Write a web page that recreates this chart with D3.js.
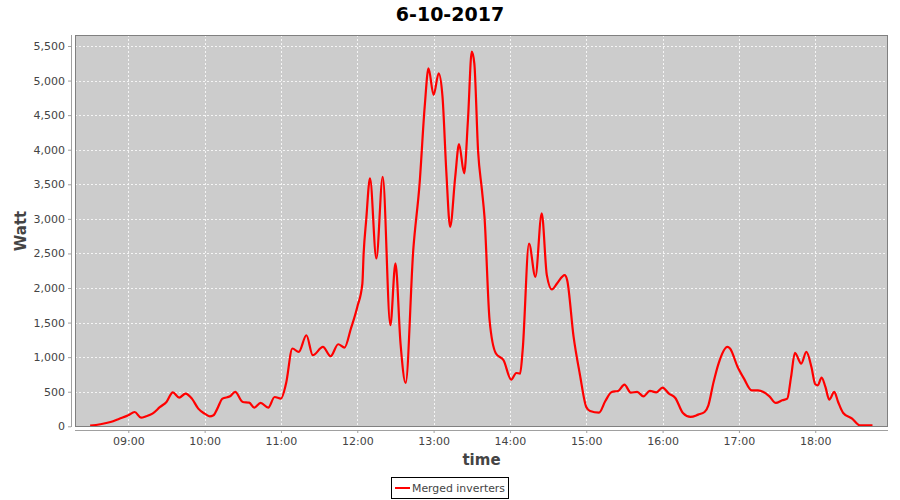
<!DOCTYPE html>
<html lang="en">
<head>
    <meta charset="UTF-8">
    <title>6-10-2017</title>
    <script type="text/javascript" src="https://d3js.org/d3.v7.min.js"></script>
    <style>
        body { margin: 0; background: #fff; }
        text { font-family: "DejaVu Sans", sans-serif; }
    </style>
</head>
<body>

    <svg id="svg" width=900 height=500></svg>

    <script>
        // readings of the merged inverters, time of day and watts
        const times = [
            "08:30", "08:38", "08:46", "08:53", "09:00", "09:05", "09:10", "09:14", "09:19", "09:25",
            "09:30", "09:35", "09:40", "09:45", "09:50", "09:55", "10:00", "10:04", "10:07", "10:10",
            "10:14", "10:20", "10:24", "10:30", "10:35", "10:39", "10:44", "10:50", "10:55", "11:00",
            "11:04", "11:09", "11:14", "11:20", "11:25", "11:33", "11:39", "11:45", "11:50", "11:55",
            "12:00", "12:04", "12:05", "12:07", "12:10", "12:15", "12:20", "12:26", "12:30", "12:34",
            "12:38", "12:44", "12:49", "12:53", "12:56", "13:00", "13:04", "13:07", "13:10", "13:13",
            "13:17", "13:20", "13:24", "13:27", "13:30", "13:32", "13:35", "13:38", "13:40", "13:44",
            "13:49", "13:55", "14:01", "14:05", "14:08", "14:10", "14:15", "14:20", "14:25", "14:29",
            "14:33", "14:37", "14:43", "14:45", "14:50", "14:55", "15:00", "15:03", "15:10", "15:15",
            "15:20", "15:25", "15:30", "15:35", "15:40", "15:45", "15:50", "15:55", "16:00", "16:05",
            "16:10", "16:16", "16:22", "16:28", "16:33", "16:36", "16:40", "16:44", "16:51", "16:53",
            "16:59", "17:04", "17:10", "17:15", "17:24", "17:29", "17:34", "17:38", "17:41", "17:44",
            "17:49", "17:53", "17:57", "18:00", "18:02", "18:05", "18:08", "18:11", "18:15", "18:18",
            "18:22", "18:29", "18:35", "18:45"
        ];
        const watts = [
            10, 30, 62, 110, 160, 207, 125, 145, 183, 280,
            352, 490, 415, 473, 400, 256, 183, 145, 160, 256,
            400, 434, 497, 352, 343, 270, 338, 270, 424, 400,
            618, 1125, 1075, 1317, 1028, 1148, 1013, 1187, 1139, 1414,
            1727, 2065, 2500, 2982, 3585, 2427, 3609, 1462, 2355, 1197,
            627, 2547, 3513, 4622, 5177, 4791, 5105, 4766, 3681, 2885,
            3609, 4082, 3658, 4429, 5418, 5250, 3970, 3416, 3029, 1534,
            1052, 955, 676, 771, 763, 1100, 2644, 2161, 3079, 2186,
            1979, 2065, 2186, 2113, 1300, 750, 280, 222, 198, 366,
            497, 511, 603, 487, 497, 434, 511, 492, 560, 473,
            410, 193, 135, 169, 207, 304, 633, 907, 1148, 1125,
            858, 690, 521, 521, 434, 338, 376, 400, 714, 1061,
            907, 1075, 858, 608, 593, 705, 569, 386, 497, 352,
            193, 111, 14, 14
        ];
        const yTicks = [0, 500, 1000, 1500, 2000, 2500, 3000, 3500, 4000, 4500, 5000, 5500];
        const xTickLabels = ["09:00", "10:00", "11:00", "12:00", "13:00", "14:00", "15:00", "16:00", "17:00", "18:00"];
        const seriesName = "Merged inverters";

        const toDate = s => {
            const [h, m] = s.split(":").map(Number);
            return new Date(2017, 9, 6, h, m);
        };
        const data = times.map((t, i) => ({ t: toDate(t), v: watts[i] }));

        const svg = d3.select("svg");
        const plotL = 75, plotR = 888, plotT = 35, plotB = 427;

        const x = d3.scaleTime()
            .domain([new Date(2017, 9, 6, 8, 18, 6), new Date(2017, 9, 6, 18, 57, 12)])
            .range([plotL, plotR]);
        const y = d3.scaleLinear()
            .domain([-10, 5659])
            .range([plotB, plotT]);

        // title
        svg.append("text")
            .attr("x", 450).attr("y", 21)
            .attr("text-anchor", "middle")
            .style("font-size", "19px").style("font-weight", "bold")
            .attr("fill", "#000")
            .text("6-10-2017");

        // plot background
        svg.append("rect")
            .attr("x", plotL).attr("y", plotT)
            .attr("width", plotR - plotL).attr("height", plotB - plotT)
            .attr("fill", "#cccccc");

        // gridlines
        const grid = svg.append("g")
            .attr("stroke", "#ffffff").attr("stroke-width", 0.8)
            .attr("stroke-dasharray", "2,2");
        grid.selectAll("line.h").data(yTicks).enter().append("line")
            .attr("x1", plotL).attr("x2", plotR)
            .attr("y1", d => Math.round(y(d)) + 0.5).attr("y2", d => Math.round(y(d)) + 0.5);
        grid.selectAll("line.v").data(xTickLabels).enter().append("line")
            .attr("y1", plotT).attr("y2", plotB)
            .attr("x1", d => Math.round(x(toDate(d))) + 0.5).attr("x2", d => Math.round(x(toDate(d))) + 0.5);

        // the series
        const line = d3.line()
            .x(d => x(d.t))
            .y(d => y(d.v))
            .curve(d3.curveMonotoneX);
        svg.append("path")
            .datum(data)
            .attr("d", line)
            .attr("fill", "none")
            .attr("stroke", "#ff0000")
            .attr("stroke-width", 2.2)
            .attr("stroke-linejoin", "round");

        // plot outline
        svg.append("rect")
            .attr("x", plotL + 0.5).attr("y", plotT + 0.5)
            .attr("width", plotR - plotL - 1).attr("height", plotB - plotT - 1)
            .attr("fill", "none").attr("stroke", "#808080");

        // y axis
        const yAxis = d3.axisLeft(y)
            .tickValues(yTicks)
            .tickSize(3)
            .tickPadding(3)
            .tickFormat(d3.format(","));
        const gy = svg.append("g")
            .attr("transform", "translate(71,0)")
            .call(yAxis);
        gy.select(".domain").attr("stroke", "#a0a0a0").attr("d", `M0.5,${plotT}V${plotB}`);
        gy.selectAll(".tick line").attr("stroke", "#a0a0a0");
        gy.selectAll(".tick text").attr("fill", "#444").style("font-size", "11px")
            .style("font-family", "'DejaVu Sans', sans-serif");

        // x axis
        const xAxis = d3.axisBottom(x)
            .tickValues(xTickLabels.map(toDate))
            .tickSize(3)
            .tickPadding(4)
            .tickFormat(d3.timeFormat("%H:%M"));
        const gx = svg.append("g")
            .attr("transform", "translate(0,430)")
            .call(xAxis);
        gx.select(".domain").attr("stroke", "#a0a0a0").attr("d", `M${plotL},0.5H${plotR}`);
        gx.selectAll(".tick line").attr("stroke", "#a0a0a0");
        gx.selectAll(".tick text").attr("fill", "#444").style("font-size", "11px")
            .style("font-family", "'DejaVu Sans', sans-serif");

        // axis labels
        svg.append("text")
            .attr("x", (plotL + plotR) / 2).attr("y", 465)
            .attr("text-anchor", "middle")
            .style("font-size", "15px").style("font-weight", "bold")
            .attr("fill", "#444")
            .text("time");
        svg.append("text")
            .attr("transform", `translate(26,${(plotT + plotB) / 2}) rotate(-90)`)
            .attr("text-anchor", "middle")
            .style("font-size", "15px").style("font-weight", "bold")
            .attr("fill", "#444")
            .text("Watt");

        // legend
        const legend = svg.append("g");
        legend.append("rect")
            .attr("x", 391.5).attr("y", 477.5)
            .attr("width", 117).attr("height", 21)
            .attr("fill", "#fff").attr("stroke", "#000");
        legend.append("line")
            .attr("x1", 395).attr("x2", 410)
            .attr("y1", 488).attr("y2", 488)
            .attr("stroke", "#ff0000").attr("stroke-width", 2);
        legend.append("text")
            .attr("x", 412).attr("y", 492)
            .style("font-size", "11px")
            .attr("textLength", 93).attr("lengthAdjust", "spacingAndGlyphs")
            .attr("fill", "#444")
            .text(seriesName);
    </script>

</body>
</html>
